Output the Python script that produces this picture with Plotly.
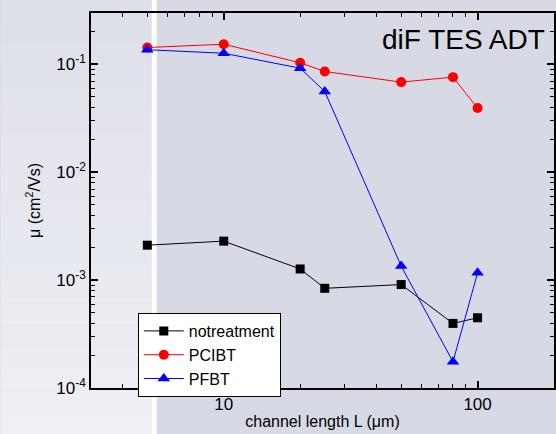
import numpy as np
import plotly.graph_objects as go

# Data
channel_length = [5, 10, 20, 25, 50, 80, 100]
notreatment = [2.11e-3, 2.30e-3, 1.27e-3, 8.4e-4, 9.1e-4, 3.97e-4, 4.48e-4]
pcibt = [0.1436, 0.154, 0.1037, 0.0861, 0.0686, 0.0763, 0.0394]
pfbt = [0.137, 0.127, 0.0924, 0.0562, 1.35e-3, 1.75e-4, 1.17e-3]

y_tickvals = [1e-4, 1e-3, 1e-2, 1e-1]
y_ticktext = ["10<sup>-4</sup>", "10<sup>-3</sup>", "10<sup>-2</sup>", "10<sup>-1</sup>"]
x_tickvals = [10, 100]
x_ticktext = ["10", "100"]

FONT = "Liberation Sans, Arial, sans-serif"

fig = go.Figure()
fig.add_trace(go.Scatter(x=channel_length, y=notreatment, name="notreatment",
                         mode="lines+markers", line=dict(color="black", width=1),
                         marker=dict(symbol="square", size=9, color="black")))
fig.add_trace(go.Scatter(x=channel_length, y=pcibt, name="PCIBT",
                         mode="lines+markers", line=dict(color="red", width=1),
                         marker=dict(symbol="circle", size=10, color="red")))
fig.add_trace(go.Scatter(x=channel_length, y=pfbt, name="PFBT",
                         mode="lines+markers", line=dict(color="blue", width=1),
                         marker=dict(symbol="triangle-up", size=11, color="blue")))

# minor tick positions
x_minor = [v * 10 ** d for d in range(0, 3) for v in range(2, 10) if 3 <= v * 10 ** d <= 200]
y_minor = [v * 10.0 ** d for d in range(-4, 0) for v in range(2, 10) if v * 10.0 ** d <= 0.3]

# background shapes (paper coords); plot area spans x 91..556, y 13..388
W, H = 556, 434
L, R, T, B = 91, 556, 13, 388
pw, ph = R - L, B - T
def px(x):
    return (x - L) / pw
def py(y):
    return (B - y) / ph

shapes = []
n = 20
top_c = np.array([221, 223, 233])
bot_c = np.array([240, 241, 246])
for i in range(n):
    y0 = i * H / n
    y1 = (i + 1) * H / n
    c = top_c + (bot_c - top_c) * (i + 0.5) / n
    shapes.append(dict(type="rect", xref="paper", yref="paper", layer="below",
                       x0=px(0), x1=px(152), y0=py(y1), y1=py(y0),
                       fillcolor="rgb(%d,%d,%d)" % tuple(c.astype(int)), line=dict(width=0)))
shapes.append(dict(type="rect", xref="paper", yref="paper", layer="below",
                   x0=px(152), x1=px(157), y0=py(H), y1=py(0),
                   fillcolor="white", line=dict(width=0)))

axis_common = dict(type="log", showgrid=False, zeroline=False, showline=True,
                   linecolor="black", linewidth=1.5, ticks="inside", ticklen=7,
                   tickwidth=1.5, tickcolor="black", mirror="allticks",
                   tickfont=dict(family=FONT, size=17, color="black"))

fig.update_layout(
    width=W, height=H,
    margin=dict(l=L, r=W - R, t=T, b=H - B),
    paper_bgcolor="rgb(215,218,228)",
    plot_bgcolor="rgba(0,0,0,0)",
    shapes=shapes,
    xaxis=dict(**axis_common, range=[np.log10(3), np.log10(200)],
               tickmode="array", tickvals=x_tickvals, ticktext=x_ticktext,
               minor=dict(tickmode="array", tickvals=x_minor, ticks="inside", ticklen=4,
                          tickwidth=1.2, tickcolor="black"),
               title=dict(text="channel length L (\u03bcm)", font=dict(family=FONT, size=16, color="black"),
                          standoff=3)),
    yaxis=dict(**axis_common, range=[-4, np.log10(0.3)],
               tickmode="array", tickvals=y_tickvals, ticktext=y_ticktext,
               minor=dict(tickmode="array", tickvals=y_minor, ticks="inside", ticklen=4,
                          tickwidth=1.2, tickcolor="black"),
               title=dict(text="\u03bc (cm<sup>2</sup>/Vs)", font=dict(family=FONT, size=16, color="black"),
                          standoff=12)),
    legend=dict(x=px(138), y=py(313), xanchor="left", yanchor="top",
                bgcolor="white", bordercolor="black", borderwidth=1,
                font=dict(family=FONT, size=16, color="black"),
                tracegroupgap=0, itemwidth=40),
    annotations=[dict(text="diF TES ADT", xref="paper", yref="paper",
                      x=px(549), y=py(39), xanchor="right", yanchor="middle",
                      showarrow=False, font=dict(family=FONT, size=28, color="black"))],
)

fig.write_html("out.html")
